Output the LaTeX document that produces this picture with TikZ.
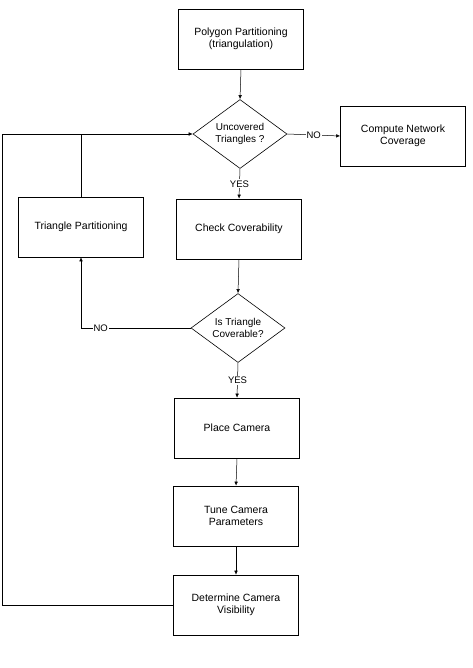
\documentclass[tikz,border=0pt]{standalone}
\usepackage{fontspec}
\setsansfont{Liberation Sans}
\usepackage{tikz}
\usetikzlibrary{arrows.meta,shapes.geometric,calc}
\tikzset{
	procbox/.style={draw,line width=0.6pt,minimum width=125pt,minimum height=60pt,align=center,font=\sffamily\fontsize{10.5}{12.5}\selectfont},
	decision/.style={draw,diamond,line width=0.6pt,minimum width=94pt,minimum height=69pt,inner sep=0pt,aspect=1.4,align=center,font=\sffamily\fontsize{10}{12.5}\selectfont},
	lbl/.style={fill=white,inner sep=1pt,font=\sffamily\fontsize{9.5}{10}\selectfont},
	flow/.style={line width=0.5pt,-{Latex[length=4pt,width=3.5pt]}},
	link/.style={line width=0.5pt}
}

\begin{document}
\begin{tikzpicture}[x=1pt,y=-1pt]
	%	\draw[help lines,step=20] (0,0) grid (472,668);
	\useasboundingbox (0,0) rectangle (472,668);

		\node[procbox] (poly) at (241,39) {Polygon Partitioning\\(triangulation)};
		\node[decision] (dun) at (240,134) {Uncovered\\Triangles ?};
		\node[procbox] (cover) at (403,136) {Compute Network\\Coverage};
		\node[procbox] (tp) at (81,227) {Triangle Partitioning};
		\node[procbox] (check) at (239,229) {Check Coverability};
		\node[decision] (dcv) at (238,328) {Is Triangle\\Coverable?};
		\node[procbox] (place) at (237,428) {Place Camera};
		\node[procbox] (tune) at (236,516) {Tune Camera\\Parameters};
		\node[procbox] (det) at (236,605) {Determine Camera\\Visibility};

		\coordinate (loopbl) at (2,605);
		\coordinate (looptl) at (2,134);

		\draw[flow] (poly.south) to (dun.north);
		\draw[flow] (dun.east) to node[lbl]{NO} (cover.west);
		\draw[flow] (dun.south) to node[lbl]{YES} (check.north);
		\draw[flow] (check.south) to (dcv.north);
		\draw[flow] (dcv.west) -| node[lbl,pos=0.41]{NO} (tp.south);
		\draw[flow] (dcv.south) to node[lbl]{YES} (place.north);
		\draw[flow] (place.south) to (tune.north);
		\draw[flow] (tune.south) to (det.north);

		\draw[flow] (det.west) -- (loopbl) -- (looptl) -- (dun.west);
		\draw[link] (tp.north) -- (tp.north |- looptl);

\end{tikzpicture}
\end{document}
